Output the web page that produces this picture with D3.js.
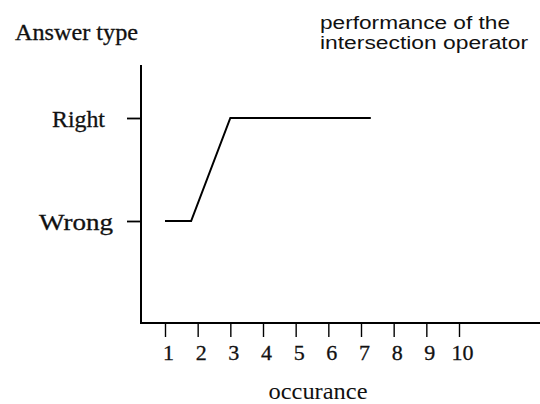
<!DOCTYPE html>
<html>
<head>
<meta charset="utf-8">
<script src="https://cdn.jsdelivr.net/npm/d3@7"></script>
<style>
  html, body { margin: 0; padding: 0; background: #fff; }
  svg { display: block; }
</style>
</head>
<body>
<svg id="chart" width="540" height="404"></svg>
<script>
// ---- data ----
const categories = ["Wrong", "Right"];
const xTicks = [1, 2, 3, 4, 5, 6, 7, 8, 9, 10];
const occurrence = [1, 1.8, 3, 7.3];
const answerType = ["Wrong", "Wrong", "Right", "Right"];
const titleLines = ["performance of the", "intersection operator"];
const yTitle = "Answer type";
const xTitle = "occurance";

// ---- layout ----
const svg = d3.select("#chart");
const originX = 141, originY = 323;
const x = d3.scaleLinear().domain([1, 10]).range([165, 459]);
const y = d3.scalePoint().domain(categories).range([221, 118]).padding(0);

const serif = "'Liberation Serif', 'Times New Roman', serif";
const sans = "'Liberation Sans', Arial, sans-serif";

// axes lines
svg.append("line")
  .attr("x1", originX).attr("x2", originX)
  .attr("y1", 65).attr("y2", originY)
  .attr("stroke", "#000").attr("stroke-width", 2);
svg.append("line")
  .attr("x1", originX - 1).attr("x2", 540)
  .attr("y1", originY).attr("y2", originY)
  .attr("stroke", "#000").attr("stroke-width", 2.2);

// y axis ticks
const yAxis = svg.append("g")
  .attr("transform", `translate(${originX},0)`)
  .call(d3.axisLeft(y).tickSize(14).tickPadding(25));
yAxis.select(".domain").remove();
yAxis.selectAll(".tick line").attr("stroke", "#000").attr("stroke-width", 1.8).attr("x1", 1);
const yLabelLen = { Right: 53, Wrong: 74 };
yAxis.selectAll(".tick text")
  .attr("font-family", serif).attr("font-size", 23).attr("fill", "#111")
  .attr("stroke", "#111").attr("stroke-width", 0.3)
  .attr("dy", "0.36em")
  .attr("x", d => d === "Right" ? -36 : -28)
  .attr("textLength", d => yLabelLen[d]).attr("lengthAdjust", "spacingAndGlyphs");

// x axis ticks
const xAxis = svg.append("g")
  .attr("transform", `translate(0,${originY})`)
  .call(d3.axisBottom(x).tickValues(xTicks).tickSize(14).tickFormat(d3.format("d")));
xAxis.select(".domain").remove();
xAxis.selectAll(".tick line").attr("stroke", "#000").attr("stroke-width", 1.4);
xAxis.selectAll(".tick text")
  .attr("font-family", serif).attr("font-size", 22).attr("fill", "#111")
  .attr("stroke", "#111").attr("stroke-width", 0.3)
  .attr("y", 37).attr("dy", 0).attr("dx", 3);

// data line
const pts = occurrence.map((v, i) => [x(v), y(answerType[i])]);
svg.append("path")
  .attr("d", d3.line()(pts))
  .attr("fill", "none").attr("stroke", "#000").attr("stroke-width", 2);

// titles
svg.append("text")
  .attr("x", 15).attr("y", 40)
  .attr("font-family", serif).attr("font-size", 23).attr("fill", "#111")
  .attr("stroke", "#111").attr("stroke-width", 0.3)
  .attr("textLength", 123).attr("lengthAdjust", "spacingAndGlyphs")
  .text(yTitle);

svg.append("text")
  .attr("x", 318).attr("y", 399)
  .attr("text-anchor", "middle")
  .attr("font-family", serif).attr("font-size", 23).attr("fill", "#111")
  .attr("textLength", 99).attr("lengthAdjust", "spacingAndGlyphs")
  .text(xTitle);

const titleLengths = [190, 208];
titleLines.forEach((t, i) => {
  svg.append("text")
    .attr("x", 320).attr("y", 29 + i * 20)
    .attr("font-family", sans).attr("font-size", 18).attr("fill", "#111")
    .attr("textLength", titleLengths[i]).attr("lengthAdjust", "spacingAndGlyphs")
    .text(t);
});
</script>
</body>
</html>
